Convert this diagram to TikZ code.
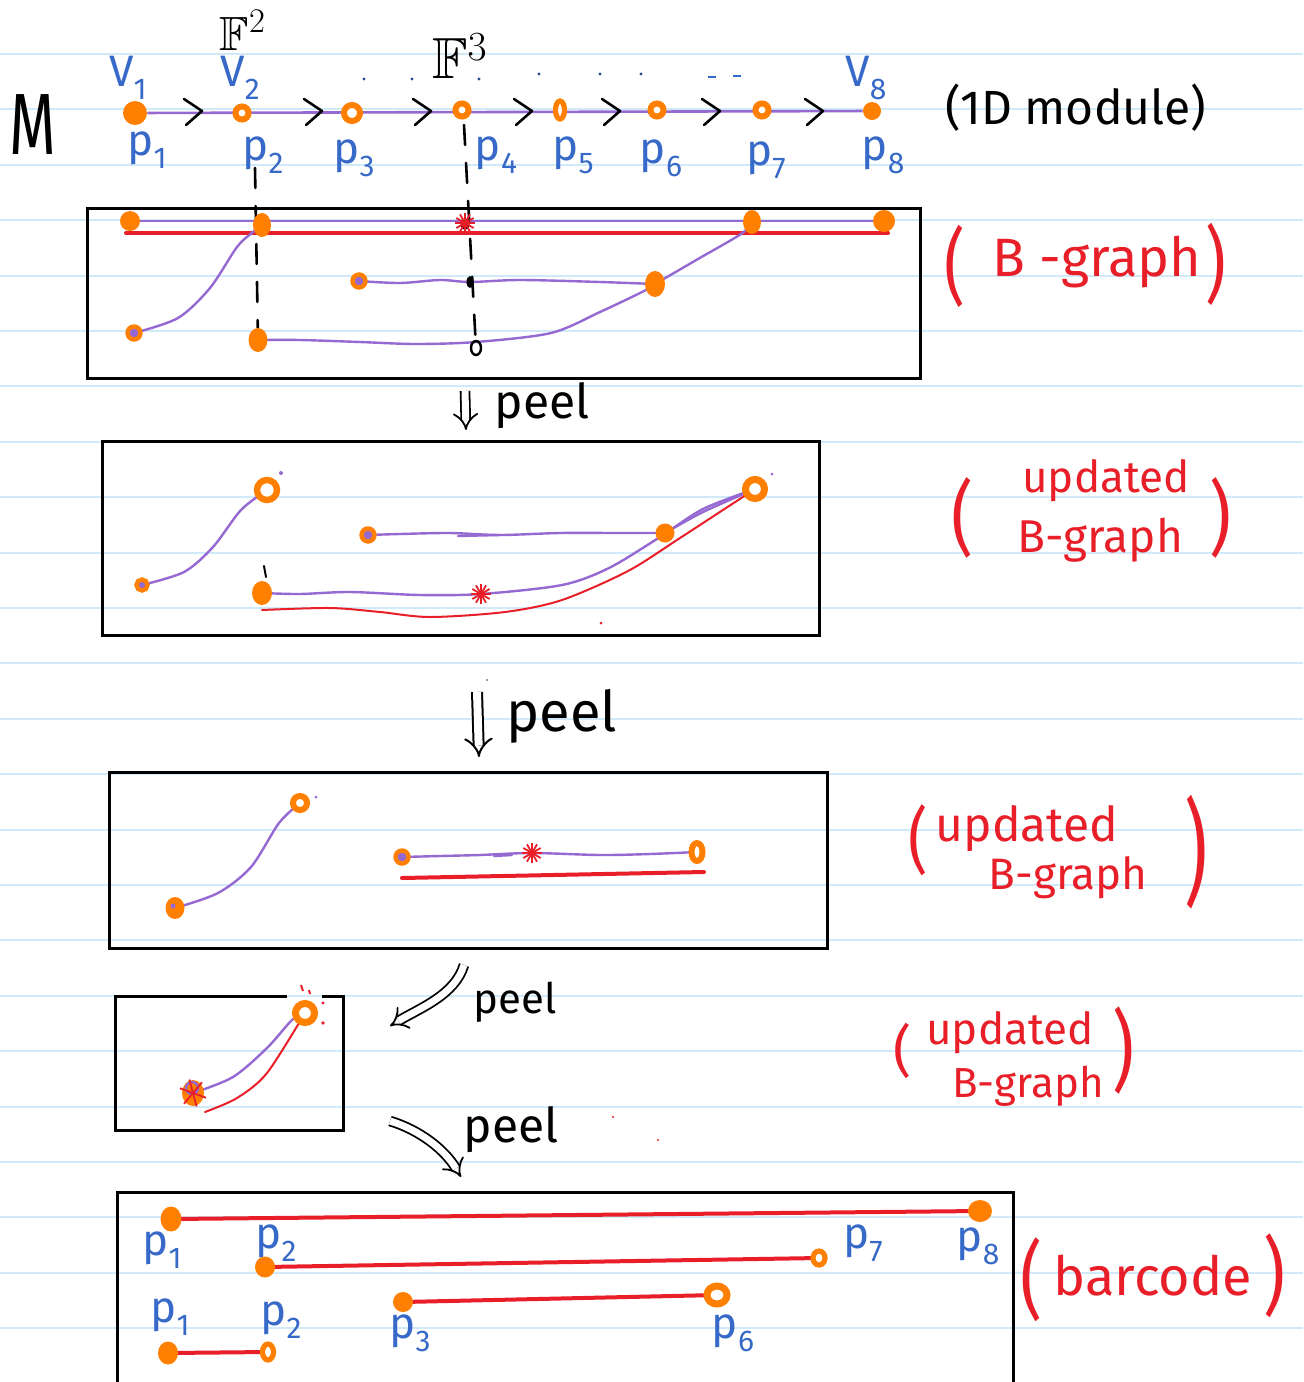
\documentclass[tikz,border=0pt]{standalone}
\usepackage{fontspec}
\usepackage{amssymb}
\setmainfont{Fira Sans}
\usetikzlibrary{arrows.meta,shapes.geometric,calc}
\definecolor{orng}{RGB}{255,128,0}
\definecolor{purp}{RGB}{150,105,210}
\definecolor{rd}{RGB}{232,30,40}
\definecolor{bl}{RGB}{55,105,200}
\definecolor{rulec}{RGB}{208,234,250}
\pgfdeclarelayer{paper}
\pgfdeclarelayer{wire}
\pgfsetlayers{paper,wire,main}
\newcommand\plab[2]{#1\raisebox{-0.55ex}{\fontsize{15}{15}\selectfont #2}}
\begin{document}
\begin{tikzpicture}[x=0.5pt,y=-0.5pt,
  hand/.style={line width=1.3pt,line cap=round,line join=round},
  boxline/.style={line width=1.5pt,black},
  pline/.style={purp,line width=1.2pt,line cap=round},
  rline/.style={rd,line width=2pt,line cap=round},
  rthin/.style={rd,line width=1pt,line cap=round},
  fdot/.style={circle,fill=orng,inner sep=0pt,minimum size=10pt},
  edot/.style={ellipse,fill=orng,inner sep=0pt,minimum width=9pt,minimum height=12pt},
  ring/.style={circle,draw=orng,line width=3pt,fill=white,inner sep=0pt,minimum size=6.5pt},
  pdot/.style={circle,draw=orng,line width=2.2pt,fill=purp,inner sep=0pt,minimum size=6.5pt},
  bdot/.style={ellipse,fill=black,inner sep=0pt,minimum width=3.5pt,minimum height=6pt},
  blab/.style={bl,font=\fontsize{22}{24}\selectfont,inner sep=0pt},
  rlab/.style={rd,inner sep=0pt},
  klab/.style={black,inner sep=0pt},
  dbl/.style={double,double distance=3.5pt,line width=0.9pt,-{Implies[length=6pt]}},
  astar/.pic={\foreach \a in {0,30,...,150} \draw[rd,line width=0.9pt] (\a:10) -- (\a+180:10);},
  xstar/.pic={\foreach \a in {20,75,130} \draw[rd,line width=0.9pt] (\a:14) -- (\a+180:14);}
]
\useasboundingbox (0,0) rectangle (1303,1382);
\begin{pgfonlayer}{paper}
\fill[white] (0,0) rectangle (1303,1382);
\foreach \k in {0,...,23} \draw[rulec,line width=1pt] (0,54+55.4*\k) -- (1303,54+55.4*\k);
\end{pgfonlayer}

% ---------- 1D module ----------
\node[klab,font=\fontsize{30}{30}\selectfont] (M) at (33,125) {\scalebox{1}[1.45]{M}};
\node[fdot,minimum size=12pt] (P1) at (135,113) {};
\node[ring] (P2) at (242,113) {};
\node[ring,minimum size=8pt] (P3) at (352,113) {};
\node[ring] (P4) at (462,110) {};
\node[ring,ellipse,minimum width=4.5pt,minimum height=9pt,line width=2.6pt] (P5) at (560,110) {};
\node[ring] (P6) at (657,110) {};
\node[ring] (P7) at (762,110) {};
\node[fdot,minimum size=9pt] (P8) at (872,111) {};
\node[blab] (V1) at (128,78) {\plab{V}{1}};
\node[blab] (V2) at (240,78) {\plab{V}{2}};
\node[blab] (V8) at (866,78) {\plab{V}{8}};
\node[klab,font=\fontsize{24}{24}\selectfont] (F2) at (243,30) {$\mathbb{F}^2$};
\node[klab,font=\fontsize{29}{29}\selectfont] (F3) at (460,56) {$\mathbb{F}^3$};
\node[blab] (p1) at (147,150) {\plab{p}{1}};
\node[blab] (p2) at (263,155) {\plab{p}{2}};
\node[blab] (p3) at (354,158) {\plab{p}{3}};
\node[blab] (p4) at (496,155) {\plab{p}{4}};
\node[blab] (p5) at (573,155) {\plab{p}{5}};
\node[blab] (p6) at (661,158) {\plab{p}{6}};
\node[blab] (p7) at (766,160) {\plab{p}{7}};
\node[blab] (p8) at (883,155) {\plab{p}{8}};
\foreach \x/\y in {364/79,412/79,479/79,539/74,600/74,641/74}
  \fill[bl!70!black] (\x,\y) circle (1.6);
\draw[bl,line width=0.8pt] (708,77) -- (716,77) (733,76) -- (741,76);
\node[klab,font=\fontsize{24}{24}\selectfont] (mod) at (1076,108) {(1D module)};
\begin{pgfonlayer}{wire}
\draw[purp,line width=1.3pt] (P1) -- (P8);
\end{pgfonlayer}
\foreach \x in {193,313,422,523,611,711,814}
  \draw[hand] (\x-9,99) -- (\x+9,111) -- (\x-7,125);

% ---------- box 1: B-graph ----------
\draw[boxline] (87,208) rectangle (920,378);
\node[fdot] (b1) at (130,221) {};
\node[edot] (b2) at (262,225) {};
\node[bdot,minimum width=4.5pt] (b4) at (465,224) {};
\pic at (465,223) {astar};
\node[edot] (b7) at (752,222) {};
\node[fdot,minimum size=11pt] (b8) at (884,221) {};
\node[pdot] (c1) at (134,333) {};
\node[pdot] (c3) at (359,281) {};
\node[bdot] (c4) at (470,282) {};
\node[edot,minimum width=10pt,minimum height=13pt] (c6) at (655,284) {};
\node[edot,minimum width=9.5pt,minimum height=12pt] (d2) at (258,340) {};
\node[ellipse,draw=black,line width=1.2pt,inner sep=0pt,minimum width=5pt,minimum height=7pt] (d4) at (476,348) {};
\coordinate (rA) at (126,233);
\coordinate (rB) at (888,233);
\coordinate (g2t) at (255,168);
\coordinate (g4t) at (464,125);
\begin{pgfonlayer}{wire}
\draw[pline] (b1.center) -- (b8.center);
\draw[rline] (rA) -- (rB);
\draw[pline] plot[smooth] coordinates {(c1.center) (178,318) (210,288) (237,247) (253,232) (b2.center)};
\draw[pline] plot[smooth] coordinates {(c3.center) (400,283) (440,280) (c4.center) (520,280) (600,282) (c6.center)};
\draw[pline] plot[smooth] coordinates {(c6.center) (698,259) (741,234) (b7.center)};
\draw[pline] plot[smooth] coordinates {(d2.center) (300,340) (360,342) (416,344) (476,342) (551,333) (600,312) (644,291) (c6.center)};
\draw[hand,dash pattern=on 10pt off 9pt] (g2t) -- (d2);
\draw[hand,dash pattern=on 10pt off 9pt] (g4t) -- (d4);
\end{pgfonlayer}
\node[rlab,font=\fontsize{32}{32}\selectfont] (bgL) at (955,266) {\scalebox{1}[1.3]{(}};
\node[rlab,font=\fontsize{27}{27}\selectfont] (bgT) at (1097,262) {B -graph};
\node[rlab,font=\fontsize{32}{32}\selectfont] (bgR) at (1216,264) {\scalebox{1}[1.3]{)}};

% ---------- peel 1 ----------
\coordinate (a1s) at (465,391);
\coordinate (a1e) at (466,430);
\draw[black,dbl] (a1s) -- (a1e);
\node[klab,font=\fontsize{24}{24}\selectfont] (peel1) at (542,406) {peel};

% ---------- box 2 ----------
\draw[boxline] (102,441) rectangle (819,635);
\node[ring,minimum size=10pt,line width=3.2pt] (e2) at (267,490) {};
\fill[purp] (281,473) circle (2);
\node[pdot,minimum size=5.5pt] (e1) at (142,585) {};
\node[pdot] (e3) at (368,535) {};
\node[fdot,minimum size=9.5pt] (e6) at (665,533) {};
\node[ring,minimum size=9.5pt,line width=3.5pt] (e7) at (755,489) {};
\fill[purp] (772,474) circle (1.5);
\node[edot,minimum width=10pt,minimum height=12pt] (f2) at (262,593) {};
\coordinate (f4) at (481,594);
\coordinate (tk1) at (264,566);
\coordinate (tk2) at (266,577);
\coordinate (rs2) at (262,610);
\begin{pgfonlayer}{wire}
\draw[pline] plot[smooth] coordinates {(e1.center) (184,572) (213,547) (241,510) (e2.center)};
\draw[pline] plot[smooth] coordinates {(e3.center) (400,534) (450,533) (500,535) (560,533) (620,533) (e6.center)};
\draw[pline] (458,536) -- (500,535);
\draw[pline] plot[smooth] coordinates {(e6.center) (703,512) (e7.center)};
\draw[pline] plot[smooth] coordinates {(f2.center) (300,594) (350,592) (420,595) (f4) (562,585) (609,568) (660,537) (703,509) (e7.center)};
\draw[rthin] plot[smooth] coordinates {(rs2) (330,608) (380,612) (430,617) (505,612) (562,600) (628,571) (680,538) (e7.center)};
\end{pgfonlayer}
\draw[hand,line width=1pt] (tk1) -- (tk2);
\pic at (f4) {astar};
\fill[rd] (601,623) circle (1.5);
\node[rlab,font=\fontsize{34}{34}\selectfont] (u1L) at (963,518) {\scalebox{1}[1.2]{(}};
\node[rlab,font=\fontsize{22}{22}\selectfont] (u1a) at (1106,481) {updated};
\node[rlab,font=\fontsize{23}{23}\selectfont] (u1b) at (1100,540) {B-graph};
\node[rlab,font=\fontsize{34}{34}\selectfont] (u1R) at (1221,518) {\scalebox{1}[1.2]{)}};

% ---------- peel 2 ----------
\coordinate (a2s) at (477,692);
\coordinate (a2e) at (479,757);
\draw[black,dbl,line width=1pt,double distance=4pt] (a2s) -- (a2e);
\node[klab,font=\fontsize{28}{28}\selectfont] (peel2) at (562,716) {peel};
\fill[gray] (487,680) circle (1.2);

% ---------- box 3 ----------
\draw[boxline] (109,772) rectangle (827,948);
\node[edot,minimum width=9.5pt,minimum height=11pt] (g1) at (175,908) {};
\node[ring,minimum size=7pt] (g2) at (300,803) {};
\fill[purp] (316,797) circle (1.5);
\node[pdot] (g3) at (402,857) {};
\node[ring,ellipse,minimum width=5.5pt,minimum height=9pt,line width=3pt] (g6) at (697,852) {};
\coordinate (g4) at (532,853);
\coordinate (rs3a) at (402,878);
\coordinate (rs3b) at (704,872);
\begin{pgfonlayer}{wire}
\draw[pline] plot[smooth] coordinates {(g1.center) (218,893) (251,867) (279,823) (g2.center)};
\draw[pline] plot[smooth] coordinates {(g3.center) (440,856) (480,855) (g4) (600,855) (650,854) (g6.center)};
\draw[pline] (494,856) -- (512,855);
\draw[rline] (rs3a) -- (rs3b);
\end{pgfonlayer}
\fill[purp] (173,906) circle (2.5);
\pic at (g4) {astar};
\node[rlab,font=\fontsize{30}{30}\selectfont] (u2L) at (918,840) {\scalebox{1}[1.2]{(}};
\node[rlab,font=\fontsize{24}{24}\selectfont] (u2a) at (1027,829) {updated};
\node[rlab,font=\fontsize{22}{22}\selectfont] (u2b) at (1068,878) {B-graph};
\node[rlab,font=\fontsize{36}{36}\selectfont] (u2R) at (1196,852) {\scalebox{1}[1.6]{)}};

% ---------- peel 3 ----------
\coordinate (a3s) at (464,965);
\coordinate (a3e) at (390,1026);
\draw[black,dbl] (a3s) .. controls (455,995) and (420,1008) .. (a3e);
\node[klab,font=\fontsize{21}{21}\selectfont] (peel3) at (515,1002) {peel};

% ---------- box 4 ----------
\draw[boxline] (287,996) -- (115,996) -- (115,1130) -- (343,1130) -- (343,996) -- (322,996);
\node[ring,line width=3.5pt,minimum size=9.5pt] (h2) at (305,1013) {};
\node[ellipse,fill=orng,inner sep=0pt,minimum width=11pt,minimum height=13pt] (h1) at (193,1093) {};
\coordinate (rs4) at (205,1112);
\begin{pgfonlayer}{wire}
\draw[pline] plot[smooth] coordinates {(h1.center) (233,1077) (267,1048) (292,1020) (h2.center)};
\draw[rthin] plot[smooth] coordinates {(rs4) (237,1098) (267,1073) (h2.center)};
\end{pgfonlayer}
\draw[pline] (192,1088) circle (6);
\pic at (h1) {xstar};
\draw[rd,line width=1pt] (301,985) -- (303,991) (309,990) -- (310,994);
\fill[rd] (323,1003) circle (1.6);
\fill[rd] (323,1023) circle (1.8);
\node[rlab,font=\fontsize{28}{28}\selectfont] (u3L) at (903,1051) {(};
\node[rlab,font=\fontsize{22}{22}\selectfont] (u3a) at (1010,1033) {updated};
\node[rlab,font=\fontsize{21}{21}\selectfont] (u3b) at (1028,1086) {B-graph};
\node[rlab,font=\fontsize{34}{34}\selectfont] (u3R) at (1124,1051) {\scalebox{1}[1.3]{)}};

% ---------- peel 4 ----------
\coordinate (a4s) at (390,1121);
\coordinate (a4e) at (461,1177);
\draw[black,dbl] (a4s) .. controls (420,1130) and (445,1150) .. (a4e);
\node[klab,font=\fontsize{24}{24}\selectfont] (peel4) at (511,1130) {peel};
\fill[rd] (613,1117) circle (1.2);
\fill[rd] (658,1140) circle (1.2);

% ---------- barcode ----------
\draw[boxline] (117,1400) -- (117,1192) -- (1013,1192) -- (1013,1400);
\node[edot,minimum width=10.5pt,minimum height=12.5pt] (q1) at (171,1219) {};
\node[edot,minimum width=12pt,minimum height=11pt] (q8) at (980,1211) {};
\node[edot,minimum width=10pt,minimum height=10.5pt] (q2) at (265,1267) {};
\node[ring,ellipse,minimum width=6pt,minimum height=7pt,line width=2.6pt] (q7) at (819,1258) {};
\node[fdot] (q3) at (403,1302) {};
\node[ring,ellipse,minimum width=10pt,minimum height=9pt,line width=3.5pt] (q6) at (717,1295) {};
\node[edot,minimum width=10pt,minimum height=11.5pt] (r1) at (168,1353) {};
\node[ring,ellipse,minimum width=5.5pt,minimum height=8pt,line width=2.6pt] (r2) at (268,1352) {};
\begin{pgfonlayer}{wire}
\draw[rline] (q1.center) -- (q8.center);
\draw[rline] (q2.center) -- (q7);
\draw[rline] (q3.center) -- (q6);
\draw[rline] (r1.center) -- (r2);
\end{pgfonlayer}
\node[blab] (lq1) at (162,1250) {\plab{p}{1}};
\node[blab] (lq8) at (978,1246) {\plab{p}{8}};
\node[blab] (lq2) at (276,1243) {\plab{p}{2}};
\node[blab] (lq7) at (863,1243) {\plab{p}{7}};
\node[blab] (lq3) at (410,1333) {\plab{p}{3}};
\node[blab] (lq6) at (733,1333) {\plab{p}{6}};
\node[blab] (lr1) at (170,1317) {\plab{p}{1}};
\node[blab] (lr2) at (281,1320) {\plab{p}{2}};
\node[rlab,font=\fontsize{34}{34}\selectfont] (bcL) at (1032,1280) {\scalebox{1}[1.25]{(}};
\node[rlab,font=\fontsize{27}{27}\selectfont] (bcT) at (1153,1276) {barcode};
\node[rlab,font=\fontsize{34}{34}\selectfont] (bcR) at (1275,1276) {\scalebox{1}[1.25]{)}};
\end{tikzpicture}
\end{document}
